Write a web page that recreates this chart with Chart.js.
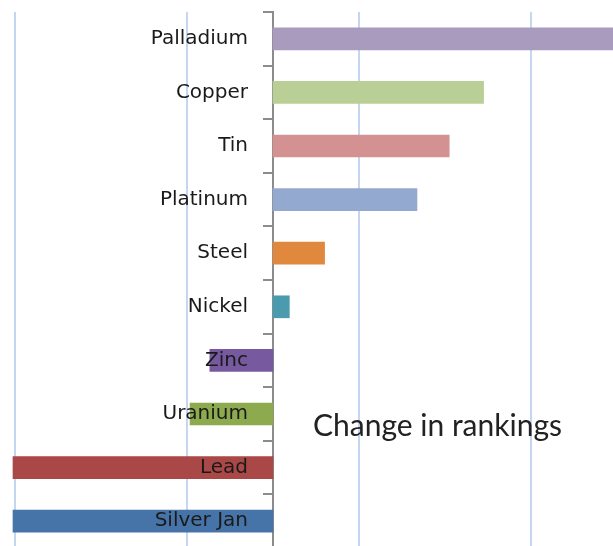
<!DOCTYPE html>
<html>
<head>
<meta charset="utf-8">
<script src="https://cdn.jsdelivr.net/npm/chart.js@4/dist/chart.umd.min.js"></script>
<style>
    html, body { margin: 0; padding: 0; background: #fff; overflow: hidden; }
    #wrap { position: relative; width: 613px; height: 548px; }
    #note {
        position: absolute; left: 313px; top: 406px;
        font-family: Lato, sans-serif; font-size: 30px; line-height: 36px; color: #222;
        white-space: nowrap;
    }
</style>
</head>
<body>
<div id="wrap">
    <canvas id="rankChart"></canvas>
    <div id="note">Change in rankings</div>
</div>
<script>
// 類別與數值（由上而下）
const metals = ['Palladium', 'Copper', 'Tin', 'Platinum', 'Steel', 'Nickel', 'Zinc', 'Uranium', 'Lead', 'Silver Jan'];
const rankChange = [8, 4.9, 4.1, 3.35, 1.2, 0.38, -1.47, -1.93, -6.05, -6.05];
const barColors = ['#a99bbd', '#bacf96', '#d39291', '#93a9cf', '#e0883d', '#4a9bad', '#76599f', '#8dab4e', '#a94846', '#4674a8'];
const gridValues = [-6, -2, 2, 6];

const labelFont = { family: "'DejaVu Sans', sans-serif", size: 20 };

document.addEventListener('DOMContentLoaded', function () {
    const canvas = document.getElementById('rankChart');
    new Chart(canvas, {
        type: 'bar',
        data: {
            labels: metals,
            datasets: [{
                data: rankChange,
                backgroundColor: barColors,
                borderWidth: 0,
                barThickness: 22,
                clip: false
            }]
        },
        options: {
            indexAxis: 'y',
            responsive: true,
            maintainAspectRatio: false,
            animation: false,
            layout: {
                padding: { top: 12, left: 13, right: 80, bottom: 0 }
            },
            plugins: {
                legend: { display: false },
                tooltip: { enabled: false }
            },
            scales: {
                x: {
                    type: 'linear',
                    min: -6.05,
                    max: 6.05,
                    afterBuildTicks: function (axis) {
                        axis.ticks = gridValues.map(function (v) { return { value: v }; });
                    },
                    ticks: { display: false },
                    grid: {
                        color: '#c5d6f1',
                        lineWidth: 2,
                        drawTicks: false
                    },
                    border: { display: false }
                },
                y: {
                    position: 'center',
                    // 不讓標籤高度撐開上下留白
                    afterFit: function (axis) {
                        axis.paddingTop = 0;
                        axis.paddingBottom = 0;
                    },
                    grid: {
                        offset: true,
                        drawOnChartArea: false,
                        drawTicks: true,
                        tickLength: 9,
                        color: '#8c8c8c',
                        lineWidth: 2
                    },
                    border: { color: '#8c8c8c', width: 2 },
                    ticks: {
                        autoSkip: false,
                        padding: 16,
                        color: '#1a1a1a',
                        font: labelFont,
                        z: 1
                    }
                }
            }
        }
    });
});
</script>
</body>
</html>
